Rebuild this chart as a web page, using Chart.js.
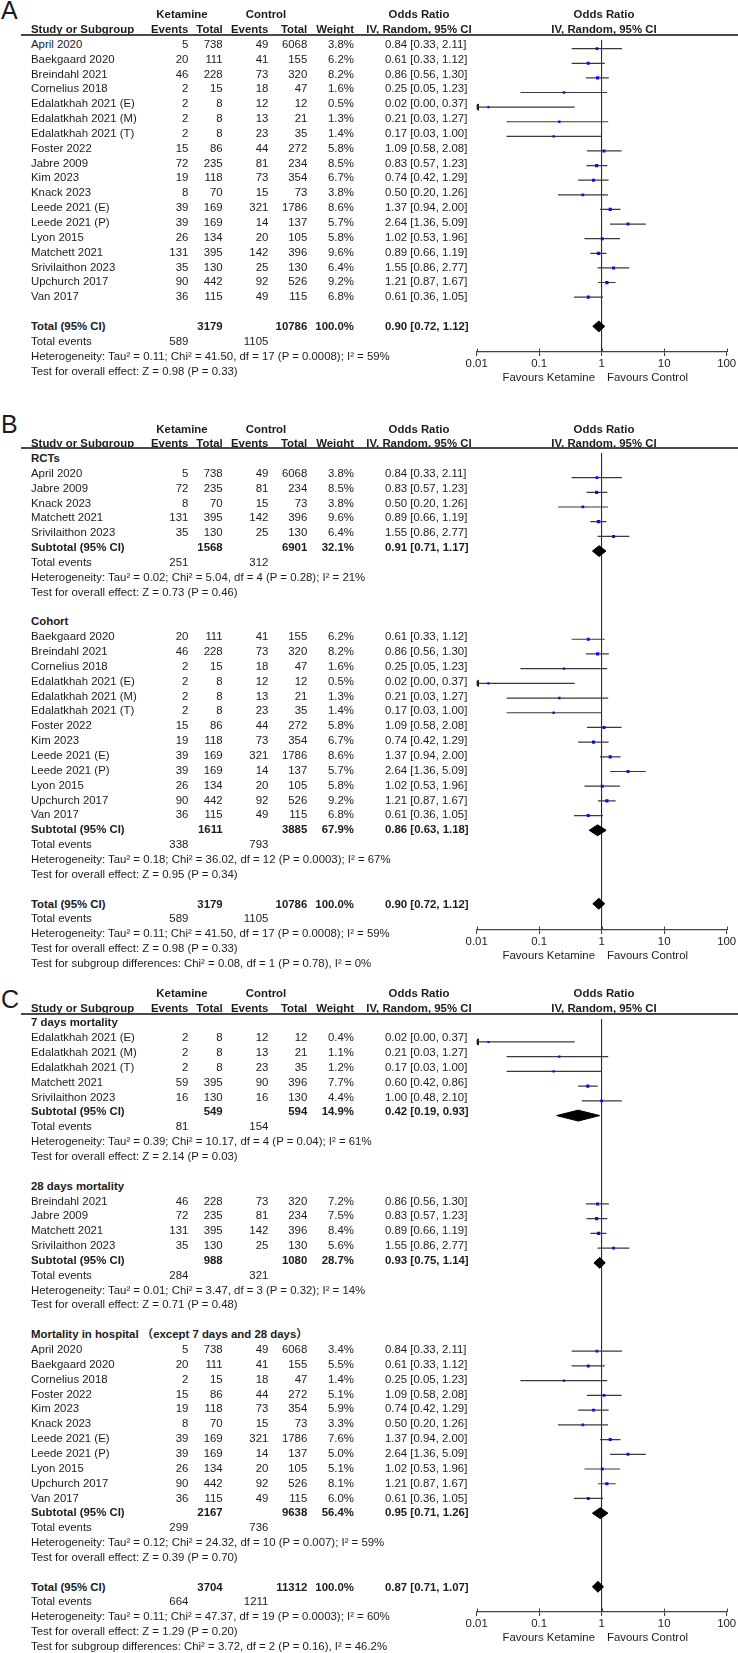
<!DOCTYPE html>
<html>
<head>
<meta charset="utf-8">
<script src="https://cdn.jsdelivr.net/npm/chart.js@4.4.1/dist/chart.umd.min.js"></script>
<style>
html,body{margin:0;padding:0;background:#fff;}
body{width:738px;height:1653px;position:relative;overflow:hidden;font-family:"Liberation Sans",Arial,"Noto Sans CJK SC",sans-serif;color:#1c1c1c;}
.t{position:absolute;white-space:nowrap;font-size:11.4px;line-height:14px;}
.b{font-weight:bold;}
.letter{position:absolute;font-size:25px;line-height:25px;left:1px;}
.rule{position:absolute;height:1.5px;background:#4a4a4a;}
canvas{position:absolute;}
</style>
</head>
<body>
<script>
// ---------------- DATA ----------------
const studyNames = ["April 2020","Baekgaard 2020","Breindahl 2021","Cornelius 2018","Edalatkhah 2021 (E)","Edalatkhah 2021 (M)","Edalatkhah 2021 (T)","Foster 2022","Jabre 2009","Kim 2023","Knack 2023","Leede 2021 (E)","Leede 2021 (P)","Lyon 2015","Matchett 2021","Srivilaithon 2023","Upchurch 2017","Van 2017"];
const ketEvents = [5,20,46,2,2,2,2,15,72,19,8,39,39,26,131,35,90,36];
const ketTotal  = [738,111,228,15,8,8,8,86,235,118,70,169,169,134,395,130,442,115];
const ctlEvents = [49,41,73,18,12,13,23,44,81,73,15,321,14,20,142,25,92,49];
const ctlTotal  = [6068,155,320,47,12,21,35,272,234,354,73,1786,137,105,396,130,526,115];
const oddsRatio = [0.84,0.61,0.86,0.25,0.0154,0.21,0.17,1.09,0.83,0.74,0.50,1.37,2.64,1.02,0.89,1.55,1.21,0.61];
const ciLower   = [0.33,0.33,0.56,0.05,0.0007,0.03,0.03,0.58,0.57,0.42,0.20,0.94,1.36,0.53,0.66,0.86,0.87,0.36];
const ciUpper   = [2.11,1.12,1.30,1.23,0.37,1.27,1.00,2.08,1.23,1.29,1.26,2.00,5.09,1.96,1.19,2.77,1.67,1.05];
const weightAll = [3.8,6.2,8.2,1.6,0.5,1.3,1.4,5.8,8.5,6.7,3.8,8.6,5.7,5.8,9.6,6.4,9.2,6.8];

// Panel B subgroups
const rctStudies = ["April 2020","Jabre 2009","Knack 2023","Matchett 2021","Srivilaithon 2023"];
const cohortStudies = ["Baekgaard 2020","Breindahl 2021","Cornelius 2018","Edalatkhah 2021 (E)","Edalatkhah 2021 (M)","Edalatkhah 2021 (T)","Foster 2022","Kim 2023","Leede 2021 (E)","Leede 2021 (P)","Lyon 2015","Upchurch 2017","Van 2017"];

// Panel C: 7 days mortality
const d7Names     = ["Edalatkhah 2021 (E)","Edalatkhah 2021 (M)","Edalatkhah 2021 (T)","Matchett 2021","Srivilaithon 2023"];
const d7KetEvents = [2,2,2,59,16];
const d7KetTotal  = [8,8,8,395,130];
const d7CtlEvents = [12,13,23,90,16];
const d7CtlTotal  = [12,21,35,396,130];
const d7Weight    = [0.4,1.1,1.2,7.7,4.4];
const d7OR        = [0.0154,0.21,0.17,0.60,1.00];
const d7Lower     = [0.0007,0.03,0.03,0.42,0.48];
const d7Upper     = [0.37,1.27,1.00,0.86,2.10];
// Panel C: 28 days mortality
const d28Names  = ["Breindahl 2021","Jabre 2009","Matchett 2021","Srivilaithon 2023"];
const d28Weight = [7.2,7.5,8.4,5.6];
// Panel C: mortality in hospital
const hospNames  = ["April 2020","Baekgaard 2020","Cornelius 2018","Foster 2022","Kim 2023","Knack 2023","Leede 2021 (E)","Leede 2021 (P)","Lyon 2015","Upchurch 2017","Van 2017"];
const hospWeight = [3.4,5.5,1.4,5.1,5.9,3.3,7.6,5.0,5.1,8.1,6.0];

// Summaries: [ketTotal, ctlTotal, weight, OR, lower, upper, ketEvents, ctlEvents]
const sumRCT      = [1568, 6901, 32.1, 0.91, 0.71, 1.17, 251, 312];
const sumCohort   = [1611, 3885, 67.9, 0.86, 0.63, 1.18, 338, 793];
const sumOverall  = [3179, 10786, 100.0, 0.90, 0.72, 1.12, 589, 1105];
const sum7d       = [549, 594, 14.9, 0.42, 0.19, 0.93, 81, 154];
const sum28d      = [988, 1080, 28.7, 0.93, 0.75, 1.14, 284, 321];
const sumHosp     = [2167, 9638, 56.4, 0.95, 0.71, 1.26, 299, 736];
const sumOverallC = [3704, 11312, 100.0, 0.87, 0.71, 1.07, 664, 1211];

const statsOverall  = ["Heterogeneity: Tau² = 0.11; Chi² = 41.50, df = 17 (P = 0.0008); I² = 59%", "Test for overall effect: Z = 0.98 (P = 0.33)"];
const statsRCT      = ["Heterogeneity: Tau² = 0.02; Chi² = 5.04, df = 4 (P = 0.28); I² = 21%", "Test for overall effect: Z = 0.73 (P = 0.46)"];
const statsCohort   = ["Heterogeneity: Tau² = 0.18; Chi² = 36.02, df = 12 (P = 0.0003); I² = 67%", "Test for overall effect: Z = 0.95 (P = 0.34)"];
const subgroupB     = "Test for subgroup differences: Chi² = 0.08, df = 1 (P = 0.78), I² = 0%";
const stats7d       = ["Heterogeneity: Tau² = 0.39; Chi² = 10.17, df = 4 (P = 0.04); I² = 61%", "Test for overall effect: Z = 2.14 (P = 0.03)"];
const stats28d      = ["Heterogeneity: Tau² = 0.01; Chi² = 3.47, df = 3 (P = 0.32); I² = 14%", "Test for overall effect: Z = 0.71 (P = 0.48)"];
const statsHosp     = ["Heterogeneity: Tau² = 0.12; Chi² = 24.32, df = 10 (P = 0.007); I² = 59%", "Test for overall effect: Z = 0.39 (P = 0.70)"];
const statsOverallC = ["Heterogeneity: Tau² = 0.11; Chi² = 47.37, df = 19 (P = 0.0003); I² = 60%", "Test for overall effect: Z = 1.29 (P = 0.20)"];
const subgroupC     = "Test for subgroup differences: Chi² = 3.72, df = 2 (P = 0.16), I² = 46.2%";

const axisTicks = [0.01, 0.1, 1, 10, 100];
const axisTickLabels = ["0.01", "0.1", "1", "10", "100"];

// ---------------- LAYOUT ----------------
const L = {
  rowH: 14.85,
  colName: 31, colKetEv: 188.3, colKetTot: 222.7, colCtlEv: 268.3, colCtlTot: 307.3, colWeight: 354, colOR: 385,
  hdrKet: 182, hdrCtl: 266, hdrOR: 419, hdrPlot: 604,
  ruleLeft: 21, ruleRight: 738,
  canvasLeft: 440, canvasW: 298, padL: 36.7, padR: 11.3, axisH: 40,
  favGapL: 595, favGapR: 607, favDy: 25.3
};
const FONT = '"Liberation Sans", Arial, sans-serif';

// ---------------- ROW BUILDING ----------------
function masterRows(names, weights) {
  return names.map((n, k) => {
    const j = studyNames.indexOf(n);
    return {kind:'study', name:n, ke:ketEvents[j], kt:ketTotal[j], ce:ctlEvents[j], ct:ctlTotal[j],
            w: weights ? weights[k] : weightAll[j], or:oddsRatio[j], lo:ciLower[j], hi:ciUpper[j]};
  });
}
function arrayRows(names, ke, kt, ce, ct, w, or, lo, hi) {
  return names.map((n, k) => ({kind:'study', name:n, ke:ke[k], kt:kt[k], ce:ce[k], ct:ct[k], w:w[k], or:or[k], lo:lo[k], hi:hi[k]}));
}
function summaryRows(label, s, stats) {
  return [
    {kind:'sum', label, kt:s[0], ct:s[1], w:s[2], or:s[3], lo:s[4], hi:s[5]},
    {kind:'events', ke:s[6], ce:s[7]},
    {kind:'note', text:stats[0]},
    {kind:'note', text:stats[1]}
  ];
}
const blank = {kind:'blank'};

const rowsA = [
  ...masterRows(studyNames, weightAll), blank,
  ...summaryRows('Total (95% CI)', sumOverall, statsOverall)
];
const rowsB = [
  {kind:'heading', text:'RCTs'}, ...masterRows(rctStudies), ...summaryRows('Subtotal (95% CI)', sumRCT, statsRCT), blank,
  {kind:'heading', text:'Cohort'}, ...masterRows(cohortStudies), ...summaryRows('Subtotal (95% CI)', sumCohort, statsCohort), blank,
  ...summaryRows('Total (95% CI)', sumOverall, statsOverall), {kind:'note', text:subgroupB}
];
const rowsC = [
  {kind:'heading', text:'7 days mortality'},
  ...arrayRows(d7Names, d7KetEvents, d7KetTotal, d7CtlEvents, d7CtlTotal, d7Weight, d7OR, d7Lower, d7Upper),
  ...summaryRows('Subtotal (95% CI)', sum7d, stats7d), blank,
  {kind:'heading', text:'28 days mortality'}, ...masterRows(d28Names, d28Weight),
  ...summaryRows('Subtotal (95% CI)', sum28d, stats28d), blank,
  {kind:'heading', text:'Mortality in hospital （except 7 days and 28 days）'}, ...masterRows(hospNames, hospWeight),
  ...summaryRows('Subtotal (95% CI)', sumHosp, statsHosp), blank,
  ...summaryRows('Total (95% CI)', sumOverallC, statsOverallC), {kind:'note', text:subgroupC}
];

const panels = [
  {letter:'A', letterTop:-2,   rowTop:43.8,   ruleY:35,   axisY:352, rows:rowsA},
  {letter:'B', letterTop:411.5, rowTop:458,   ruleY:448,  axisY:930, rows:rowsB},
  {letter:'C', letterTop:986.5, rowTop:1022.3, ruleY:1014, axisY:1612, rows:rowsC}
];

// ---------------- TEXT ----------------
function txt(s, x, y, align, bold) {
  const d = document.createElement('div');
  d.className = 't' + (bold ? ' b' : '');
  d.textContent = s;
  d.style.top = (y - 7) + 'px';
  if (align === 'right') { d.style.left = (x - 300) + 'px'; d.style.width = '300px'; d.style.textAlign = 'right'; }
  else if (align === 'center') { d.style.left = (x - 150) + 'px'; d.style.width = '300px'; d.style.textAlign = 'center'; }
  else d.style.left = x + 'px';
  document.body.appendChild(d);
}
const fmtOR = r => r.or.toFixed(2) + ' [' + r.lo.toFixed(2) + ', ' + r.hi.toFixed(2) + ']';

function sqRadius(w) { return (1.8 + 1.5 * Math.sqrt(w / 10)) / Math.SQRT2; }

const tickUp = {
  id: 'tickUp',
  afterDraw(chart) {
    const xs = chart.scales.x, ctx = chart.ctx, yb = chart.chartArea.bottom;
    ctx.save(); ctx.strokeStyle = '#444'; ctx.lineWidth = 1;
    xs.ticks.forEach(t => {
      const px = Math.round(xs.getPixelForValue(t.value)) + 0.5;
      ctx.beginPath(); ctx.moveTo(px, yb - 3.5); ctx.lineTo(px, yb); ctx.stroke();
    });
    ctx.restore();
  }
};

panels.forEach(p => {
  const yOf = i => p.rowTop + i * L.rowH;
  // letter
  const le = document.createElement('div'); le.className = 'letter'; le.textContent = p.letter; le.style.top = p.letterTop + 'px';
  document.body.appendChild(le);
  // headers
  const h1 = p.rowTop - 29.5, h2 = p.rowTop - 14.8;
  txt('Ketamine', L.hdrKet, h1, 'center', true);
  txt('Control', L.hdrCtl, h1, 'center', true);
  txt('Odds Ratio', L.hdrOR, h1, 'center', true);
  txt('Odds Ratio', L.hdrPlot, h1, 'center', true);
  txt('Study or Subgroup', L.colName, h2, 'left', true);
  txt('Events', L.colKetEv, h2, 'right', true);
  txt('Total', L.colKetTot, h2, 'right', true);
  txt('Events', L.colCtlEv, h2, 'right', true);
  txt('Total', L.colCtlTot, h2, 'right', true);
  txt('Weight', L.colWeight, h2, 'right', true);
  txt('IV, Random, 95% CI', L.hdrOR, h2, 'center', true);
  txt('IV, Random, 95% CI', L.hdrPlot, h2, 'center', true);
  const rule = document.createElement('div'); rule.className = 'rule';
  rule.style.left = L.ruleLeft + 'px'; rule.style.width = (L.ruleRight - L.ruleLeft) + 'px'; rule.style.top = (p.ruleY - 0.75) + 'px';
  document.body.appendChild(rule);

  // table rows
  p.rows.forEach((r, i) => {
    const y = yOf(i);
    if (r.kind === 'heading') txt(r.text, L.colName, y, 'left', true);
    else if (r.kind === 'study') {
      txt(r.name, L.colName, y, 'left');
      txt(String(r.ke), L.colKetEv, y, 'right');
      txt(String(r.kt), L.colKetTot, y, 'right');
      txt(String(r.ce), L.colCtlEv, y, 'right');
      txt(String(r.ct), L.colCtlTot, y, 'right');
      txt(r.w.toFixed(1) + '%', L.colWeight, y, 'right');
      txt(fmtOR(r), L.colOR, y, 'left');
    } else if (r.kind === 'sum') {
      txt(r.label, L.colName, y, 'left', true);
      txt(String(r.kt), L.colKetTot, y, 'right', true);
      txt(String(r.ct), L.colCtlTot, y, 'right', true);
      txt(r.w.toFixed(1) + '%', L.colWeight, y, 'right', true);
      txt(fmtOR(r), L.colOR, y, 'left', true);
    } else if (r.kind === 'events') {
      txt('Total events', L.colName, y, 'left');
      txt(String(r.ke), L.colKetEv, y, 'right');
      txt(String(r.ce), L.colCtlEv, y, 'right');
    } else if (r.kind === 'note') {
      txt(r.text, L.colName, y, 'left');
    }
  });
  // favours labels
  txt('Favours Ketamine', L.favGapL, p.axisY + L.favDy, 'right');
  txt('Favours Control', L.favGapR, p.axisY + L.favDy, 'left');

  // ---------- chart ----------
  const top = p.ruleY, plotH = p.axisY - p.ruleY;
  const cv = document.createElement('canvas');
  cv.width = L.canvasW; cv.height = plotH + L.axisH;
  cv.style.left = L.canvasLeft + 'px'; cv.style.top = top + 'px';
  cv.style.width = L.canvasW + 'px'; cv.style.height = (plotH + L.axisH) + 'px';
  document.body.insertBefore(cv, document.body.firstChild);
  const yMin = (top - p.rowTop) / L.rowH;
  const yMax = yMin + plotH / L.rowH;

  const studies = [], sums = [];
  p.rows.forEach((r, i) => { if (r.kind === 'study') studies.push({r, i}); if (r.kind === 'sum') sums.push({r, i}); });
  const datasets = [];
  studies.forEach(({r, i}) => {
    datasets.push({type:'line', showLine:true, data:[{x:r.lo, y:i}, {x:r.hi, y:i}], borderColor:'#3a3a3a', borderWidth:1.2, pointRadius:0, fill:false, order:3});
  });
  datasets.push({type:'scatter', data: studies.map(({r, i}) => ({x:r.or, y:i})), pointStyle:'rect',
    pointRadius: studies.map(({r}) => sqRadius(r.w)), backgroundColor:'#0a12e0', borderWidth:0, order:1});
  const arrows = studies.filter(({r}) => r.lo < axisTicks[0]);
  if (arrows.length) datasets.push({type:'scatter', data: arrows.map(({i}) => ({x:axisTicks[0], y:i})), pointStyle:'triangle',
    rotation:-90, pointRadius:3.6, backgroundColor:'#222', borderColor:'#222', borderWidth:1, order:1});
  sums.forEach(({r, i}) => {
    const d = 0.37;
    datasets.push({type:'line', showLine:true, data:[{x:r.lo, y:i}, {x:r.or, y:i - d}, {x:r.hi, y:i}, {x:r.or, y:i + d}, {x:r.lo, y:i}],
      borderColor:'#000', backgroundColor:'#000', borderWidth:1, pointRadius:0, fill:'shape', tension:0, order:0});
  });

  new Chart(cv, {
    type: 'scatter',
    data: {datasets},
    options: {
      responsive: false, animation: false, events: [],
      layout: {padding: {left: L.padL, right: L.padR, top: 0, bottom: 0}},
      plugins: {legend: {display: false}, tooltip: {enabled: false}},
      scales: {
        x: {
          type: 'logarithmic', position: 'bottom', min: axisTicks[0], max: axisTicks[axisTicks.length - 1],
          afterBuildTicks: s => { s.ticks = axisTicks.map(v => ({value: v})); },
          afterFit: s => { s.height = L.axisH; },
          ticks: {autoSkip: false, maxRotation: 0, minRotation: 0, padding: 1.5, color: '#222',
                  font: {family: FONT, size: 11.4},
                  callback: v => { const k = axisTicks.indexOf(v); return k >= 0 ? axisTickLabels[k] : ''; }},
          grid: {drawOnChartArea: true, drawTicks: true, tickLength: 4, tickColor: '#444', lineWidth: 1.1,
                 color: c => (c.tick && c.tick.value === 1) ? '#2b2b2b' : 'rgba(0,0,0,0)'},
          border: {display: true, color: '#444', width: 1.2}
        },
        y: {type: 'linear', display: false, reverse: true, min: yMin, max: yMax}
      }
    },
    plugins: [tickUp]
  });
});
</script>
</body>
</html>
